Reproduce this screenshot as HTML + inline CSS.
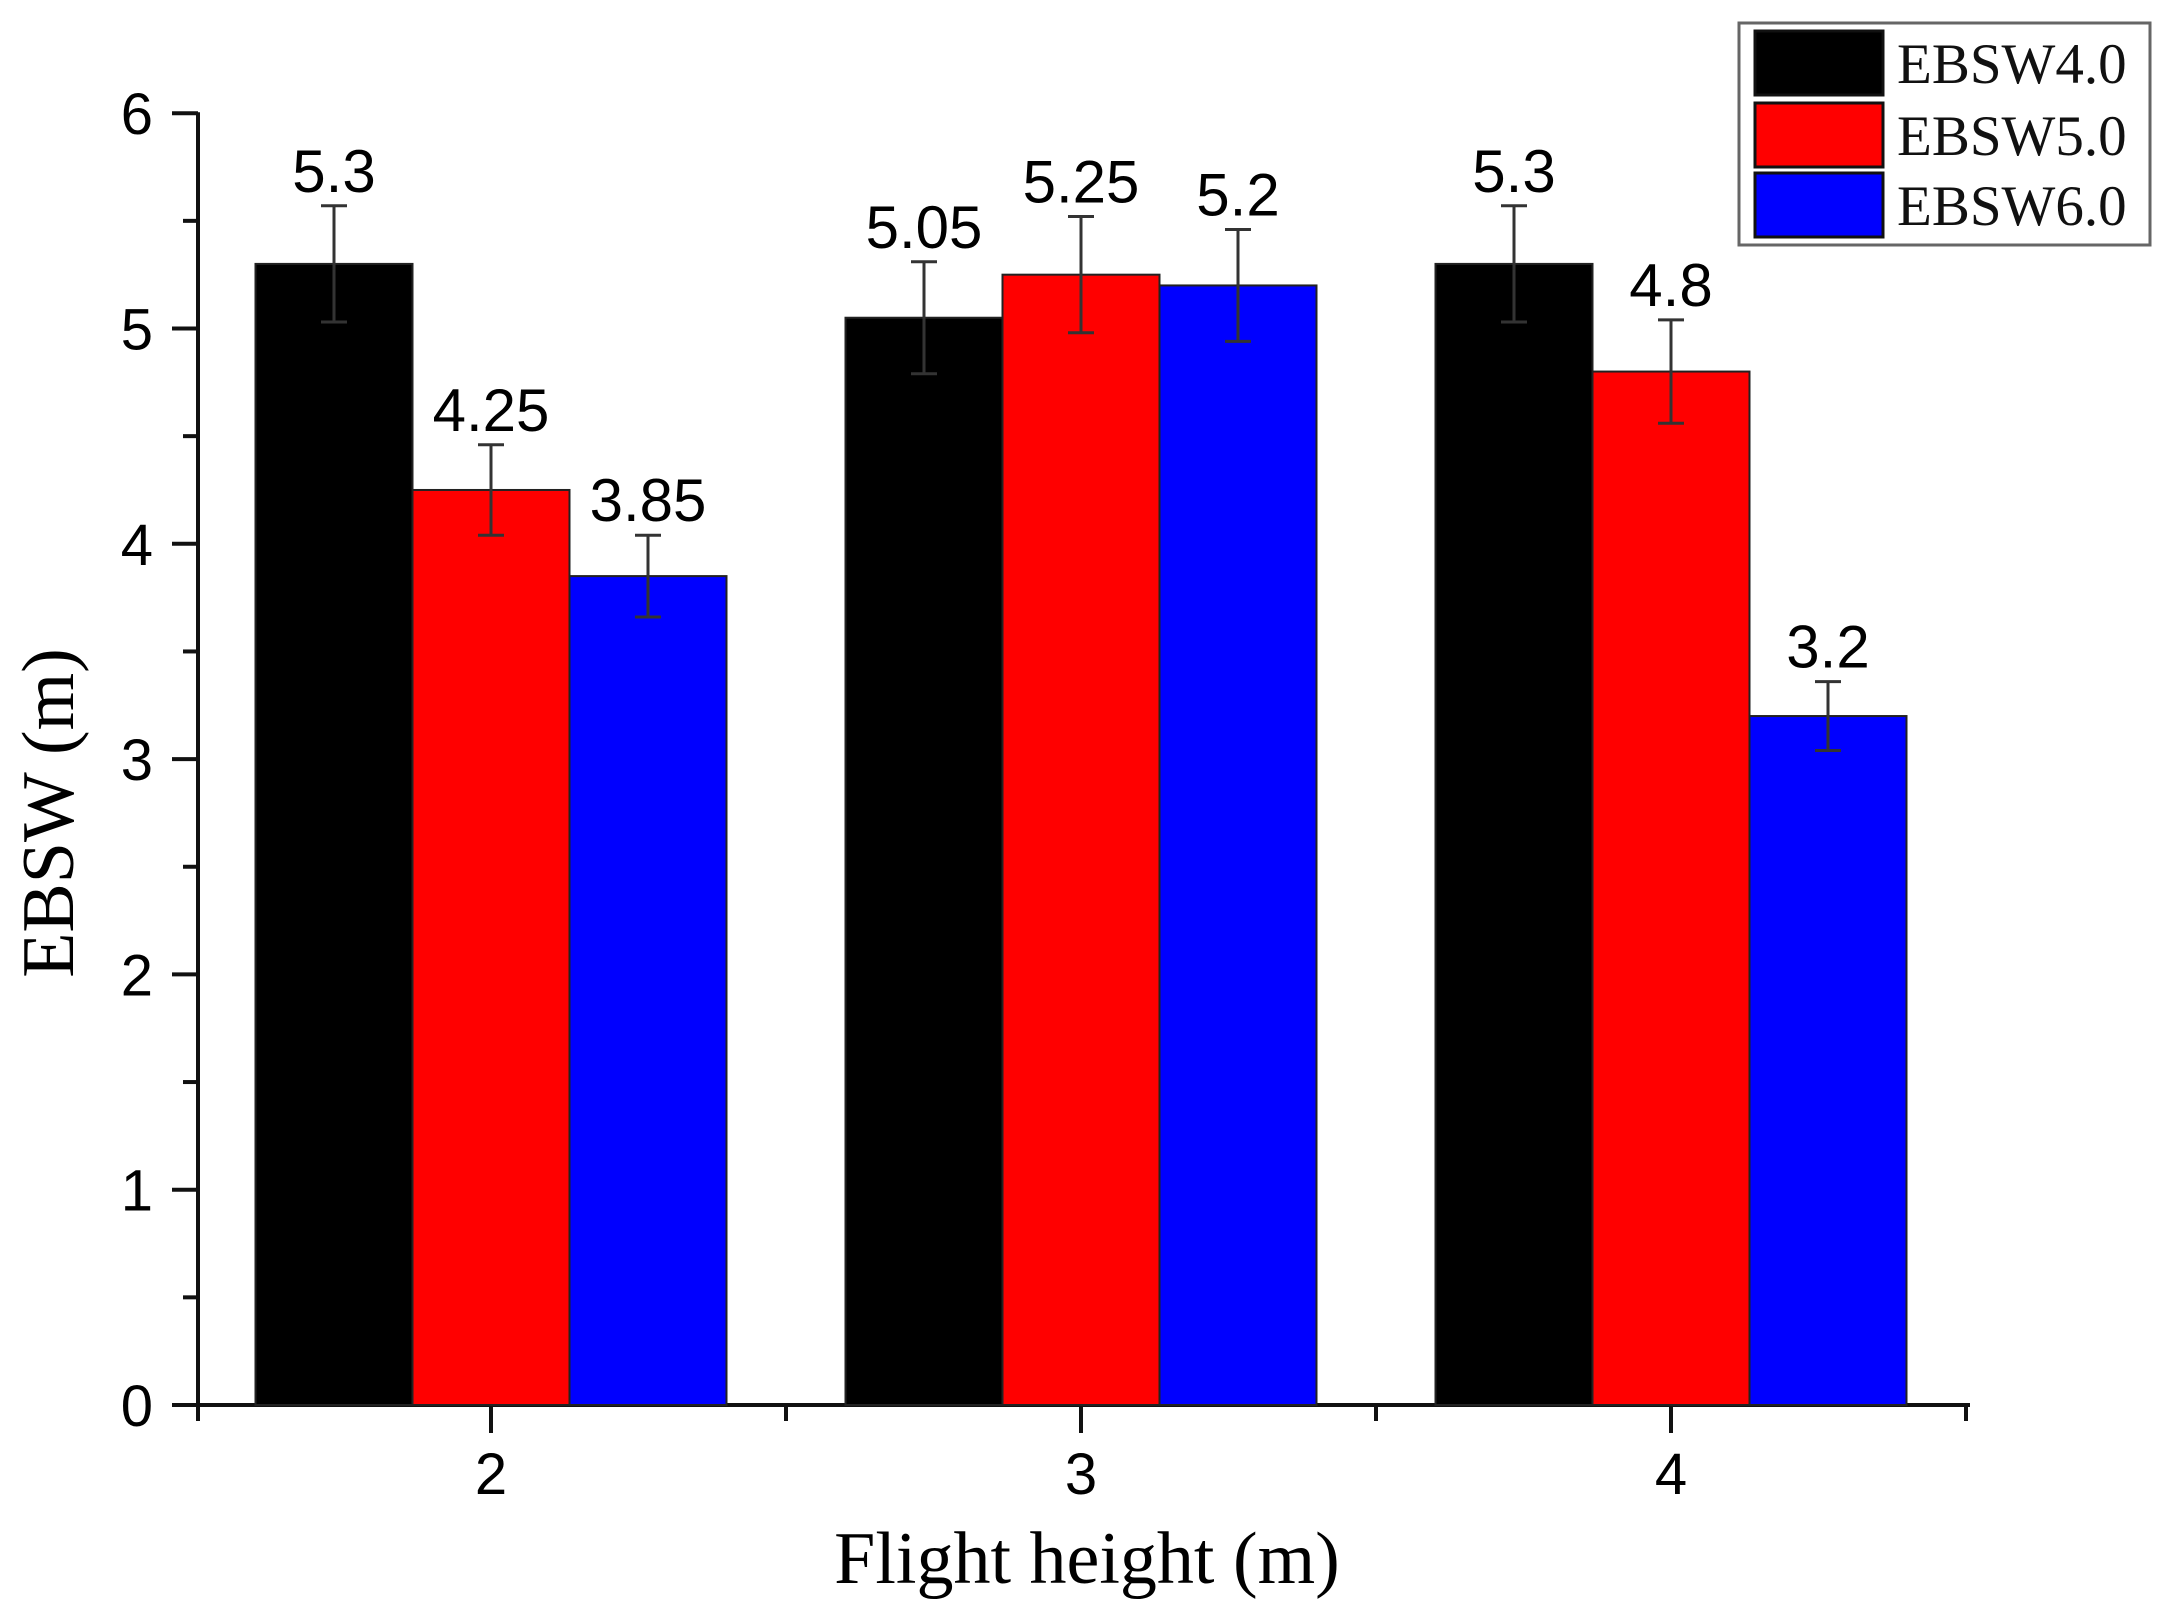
<!DOCTYPE html>
<html><head><meta charset="utf-8"><style>
html,body{margin:0;padding:0;background:#fff;}
svg{display:block;}
</style></head><body>
<svg id="chart" width="2173" height="1609" viewBox="0 0 2173 1609" xmlns="http://www.w3.org/2000/svg">
<g id="axes"></g>
<g id="bars"></g>
<g id="labels"></g>
<text x="49" y="813" transform="rotate(-90 49 813)" text-anchor="middle" dominant-baseline="central" font-family="Liberation Serif, serif" font-size="74" fill="#000">EBSW (m)</text>
<text x="1087" y="1583" text-anchor="middle" font-family="Liberation Serif, serif" font-size="74" fill="#000">Flight height (m)</text>
<g id="legend">
<rect x="1739" y="23" width="411" height="222" fill="#fff" stroke="#666" stroke-width="3"/>
</g>
</svg>
<script>
const categories = ["2", "3", "4"];
const seriesNames = ["EBSW4.0", "EBSW5.0", "EBSW6.0"];
const seriesColors = ["#000000", "#ff0000", "#0000ff"];
const ebsw40 = [5.3, 5.05, 5.3];
const ebsw50 = [4.25, 5.25, 4.8];
const ebsw60 = [3.85, 5.2, 3.2];
const err40 = [0.27, 0.26, 0.27];
const err50 = [0.21, 0.27, 0.24];
const err60 = [0.19, 0.26, 0.16];
const labels40 = ["5.3", "5.05", "5.3"];
const labels50 = ["4.25", "5.25", "4.8"];
const labels60 = ["3.85", "5.2", "3.2"];
const yTicks = [0, 1, 2, 3, 4, 5, 6];

const NS = "http://www.w3.org/2000/svg";
const X0 = 198, X1 = 1970, Y0 = 1405, UNIT = 215.3;
const CAT0 = 491, CATSTEP = 590, BW = 157;
function yScale(v){ return Y0 - v * UNIT; }
function xCat(i){ return CAT0 + i * CATSTEP; }
function mk(tag, attrs, parent){
  const e = document.createElementNS(NS, tag);
  for (const k in attrs) e.setAttribute(k, attrs[k]);
  parent.appendChild(e);
  return e;
}
const axes = document.getElementById('axes');
const bars = document.getElementById('bars');
const labels = document.getElementById('labels');
const legend = document.getElementById('legend');

const series = [ebsw40, ebsw50, ebsw60];
const errs = [err40, err50, err60];
const vlabels = [labels40, labels50, labels60];

series.forEach((vals, s) => {
  vals.forEach((v, i) => {
    const cx = xCat(i) + (s - 1) * BW;
    const r = mk('rect', {x: cx - BW/2, y: yScale(v), width: BW, height: Y0 - yScale(v), fill: seriesColors[s], stroke: '#222', 'stroke-width': 2}, bars);
    
    
    const e = errs[s][i];
    const eg = mk('g', {stroke: '#333', 'stroke-width': 3}, bars);
    
    
    mk('line', {x1: cx, x2: cx, y1: yScale(v + e), y2: yScale(v - e)}, eg);
    mk('line', {x1: cx - 13, x2: cx + 13, y1: yScale(v + e), y2: yScale(v + e)}, eg);
    mk('line', {x1: cx - 13, x2: cx + 13, y1: yScale(v - e), y2: yScale(v - e)}, eg);
    const t = mk('text', {x: cx, y: yScale(v + e) - 14, 'text-anchor': 'middle', 'font-family': 'Liberation Sans, sans-serif', 'font-size': 60, fill: '#000'}, labels);
    t.textContent = vlabels[s][i];
    
    
  });
});

const ya = mk('line', {x1: X0, x2: X0, y1: yScale(6) - 1, y2: Y0 + 16, stroke: '#111', 'stroke-width': 4}, axes);


const xa = mk('line', {x1: X0 - 26, x2: X1, y1: Y0, y2: Y0, stroke: '#111', 'stroke-width': 4}, axes);


yTicks.forEach(v => {
  mk('line', {x1: X0 - 26, x2: X0, y1: yScale(v), y2: yScale(v), stroke: '#111', 'stroke-width': 4}, axes);
  if (v < 6) mk('line', {x1: X0 - 15, x2: X0, y1: yScale(v + 0.5), y2: yScale(v + 0.5), stroke: '#111', 'stroke-width': 4}, axes);
  const t = mk('text', {x: 153, y: yScale(v) + 21, 'text-anchor': 'end', 'font-family': 'Liberation Sans, sans-serif', 'font-size': 58, fill: '#000'}, axes);
  t.textContent = String(v);
  
  
});
categories.forEach((c, i) => {
  mk('line', {x1: xCat(i), x2: xCat(i), y1: Y0, y2: Y0 + 28, stroke: '#111', 'stroke-width': 4}, axes);
  mk('line', {x1: xCat(i) + CATSTEP/2, x2: xCat(i) + CATSTEP/2, y1: Y0, y2: Y0 + 16, stroke: '#111', 'stroke-width': 4}, axes);
  const t = mk('text', {x: xCat(i), y: 1494, 'text-anchor': 'middle', 'font-family': 'Liberation Sans, sans-serif', 'font-size': 58, fill: '#000'}, axes);
  t.textContent = c;
  
  
});

const rowY = [31, 103, 173];
seriesNames.forEach((n, s) => {
  const sw = mk('rect', {x: 1755, y: rowY[s], width: 128, height: 64, fill: seriesColors[s], stroke: '#111', 'stroke-width': 3}, legend);
  
  
  const t = mk('text', {x: 1897, y: rowY[s] + 52, 'font-family': 'Liberation Serif, serif', 'font-size': 57, fill: '#111'}, legend);
  t.textContent = n;
  
  
});
</script>
</body></html>
